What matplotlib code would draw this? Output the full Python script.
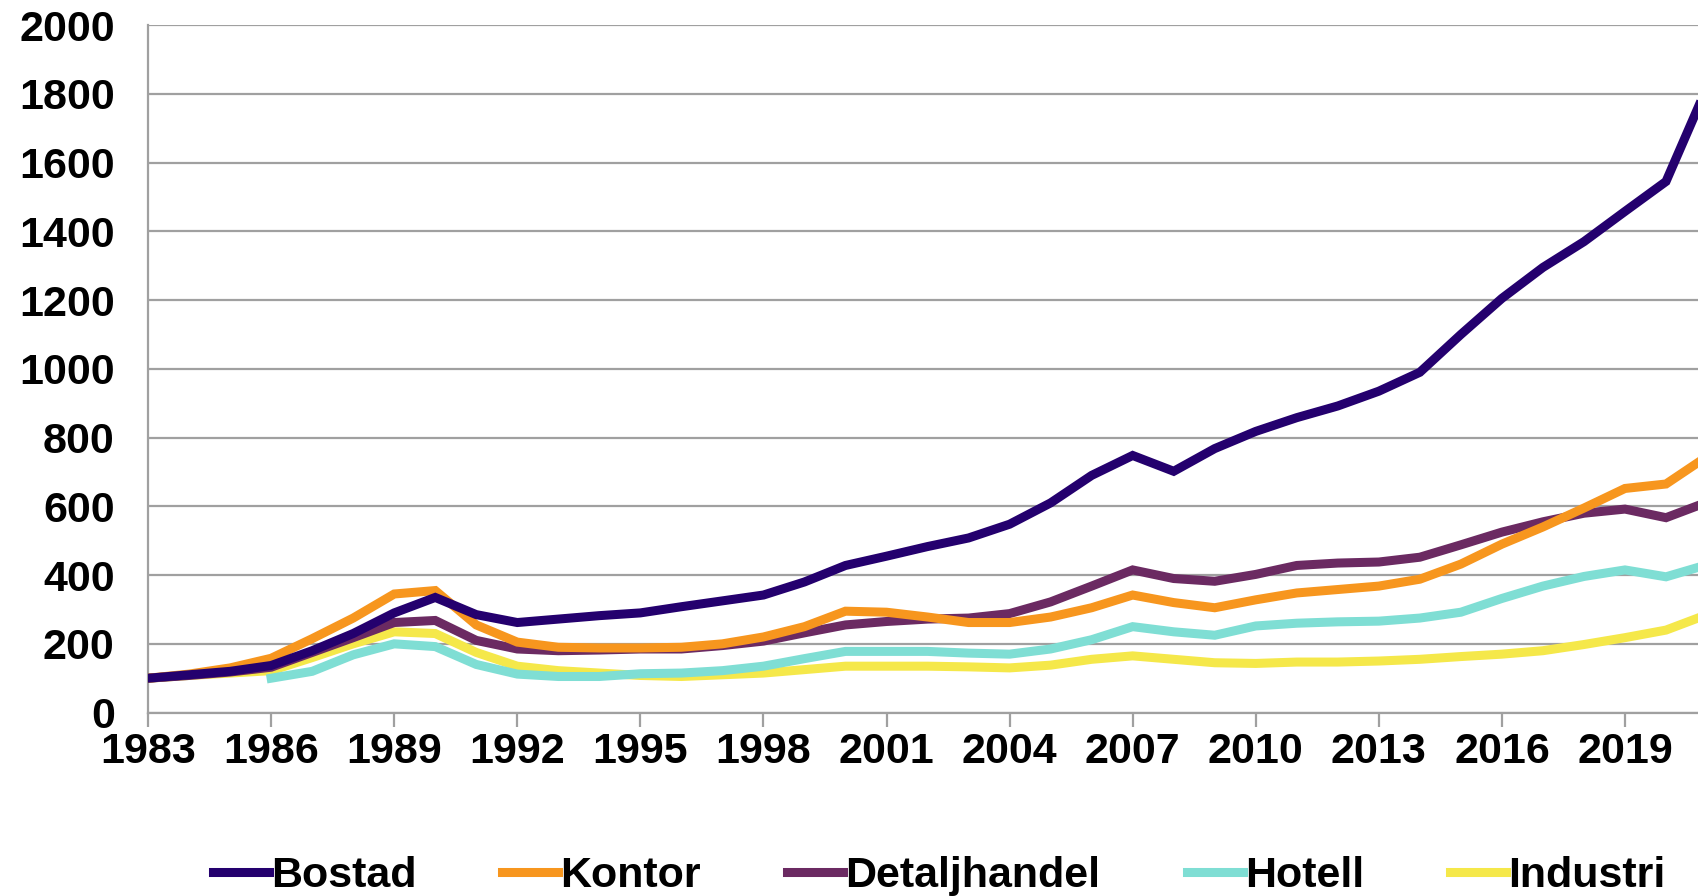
import numpy as np
import matplotlib
matplotlib.use("Agg")
import matplotlib.pyplot as plt

plt.rcParams["font.family"] = ["Liberation Sans", "DejaVu Sans"]
plt.rcParams["font.weight"] = "bold"

years = list(range(1983, 2022))
bostad = [100, 110, 120, 137, 180, 230, 290, 335, 285, 262, 272, 282, 290, 308, 325, 342,
          380, 428, 455, 483, 508, 548, 610, 690, 748, 702, 768, 818, 858, 892, 935, 990,
          1100, 1205, 1295, 1370, 1458, 1545, 1820]
kontor = [100, 112, 130, 158, 215, 275, 345, 355, 255, 205, 190, 188, 188, 190, 200, 220,
          250, 295, 292, 278, 262, 262, 278, 305, 342, 320, 305, 328, 348, 358, 368, 388,
          432, 490, 540, 595, 652, 665, 745]
detalj = [100, 108, 118, 132, 175, 218, 262, 268, 210, 185, 180, 182, 185, 185, 195, 208,
          232, 255, 265, 272, 275, 288, 322, 368, 415, 390, 382, 402, 428, 435, 438, 452,
          488, 525, 555, 580, 592, 567, 612]
hotell = [None, None, None, 100, 120, 168, 200, 192, 140, 112, 105, 105, 113, 115, 122, 135,
          157, 178, 178, 178, 173, 170, 185, 212, 250, 235, 225, 252, 260, 264, 266, 275,
          292, 332, 368, 396, 415, 395, 430]
industri = [100, 108, 115, 122, 160, 200, 235, 230, 175, 135, 122, 115, 108, 105, 110, 115,
            125, 135, 135, 135, 133, 130, 138, 155, 165, 155, 145, 143, 147, 147, 150, 155,
            163, 170, 180, 198, 218, 240, 285]

names = ["Bostad", "Kontor", "Detaljhandel", "Hotell", "Industri"]
colors = ["#24006e", "#f7961e", "#6b2a62", "#7fded4", "#f5e84a"]
series = [bostad, kontor, detalj, hotell, industri]

fig = plt.figure(figsize=(16.98, 8.96), dpi=100)
ax = fig.add_axes([0.0872, 0.2047, 0.9128, 0.7673])

# light lines drawn first so the dark ones sit on top
handles = [None] * 5
for i in [4, 3, 2, 1, 0]:
    y = np.array([np.nan if v is None else v for v in series[i]], dtype=float)
    ln, = ax.plot(years, y, color=colors[i], lw=6.5, label=names[i],
                  solid_joinstyle="miter", zorder=3)
    handles[i] = ln

ax.set_xlim(1983, 2020.78)
ax.set_ylim(0, 2000)
ax.set_yticks(range(0, 2001, 200))
ax.set_xticks(range(1983, 2020, 3))
ax.grid(axis="y", color="#a0a0a0", lw=1.6, zorder=0)
for s in ["top", "right"]:
    ax.spines[s].set_visible(False)
for s in ["left", "bottom"]:
    ax.spines[s].set_color("#a0a0a0")
    ax.spines[s].set_linewidth(1.6)
ax.tick_params(axis="y", length=0, labelsize=31, pad=24)
ax.tick_params(axis="x", length=10, width=1.6, color="#a0a0a0", labelsize=31, pad=4)
for lab in ax.get_xticklabels() + ax.get_yticklabels():
    lab.set_fontweight("bold")

fig.legend(handles, names, loc="center", bbox_to_anchor=(0.553, 0.022), ncol=5,
           frameon=False, handlelength=1.3, handletextpad=0.05,
           columnspacing=2.0, prop={"weight": "bold", "size": 31})

fig.savefig("out.png", dpi=100)
